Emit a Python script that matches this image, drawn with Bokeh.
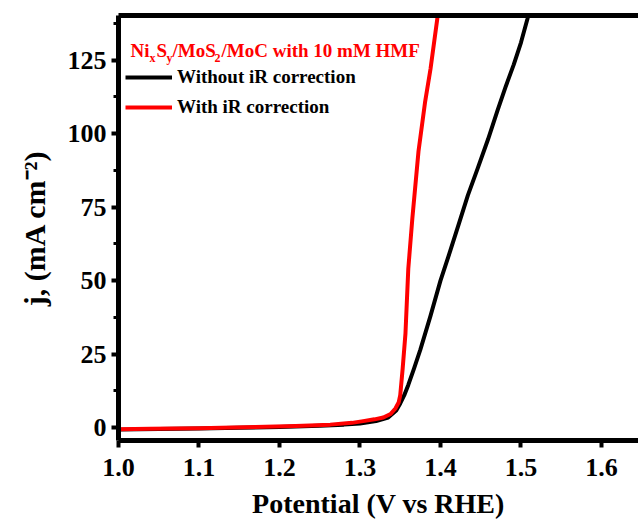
from bokeh.plotting import figure
from bokeh.models import (Range1d, FixedTicker, NumeralTickFormatter, LinearAxis,
                          Legend, LegendItem, Label)
from bokeh.embed import file_html
from bokeh.resources import INLINE

# ---- data ----
black_v = [1.00, 1.05, 1.10, 1.15, 1.20, 1.25, 1.28, 1.30, 1.32, 1.335, 1.345, 1.350,
           1.355, 1.360, 1.367, 1.375, 1.3876, 1.400, 1.412, 1.423, 1.434, 1.446,
           1.459, 1.471, 1.481, 1.491, 1.500, 1.508, 1.513]
black_j = [-0.7, -0.5, -0.3, -0.1, 0.2, 0.6, 1.0, 1.4, 2.2, 3.4, 5.8, 8.2,
           11.0, 14.5, 20.0, 26.5, 38.0, 50.0, 60.0, 69.5, 79.0, 88.0,
           98.0, 108.0, 116.0, 123.5, 131.0, 139.0, 145.0]

red_v = [1.00, 1.04, 1.10, 1.17, 1.22, 1.263, 1.29, 1.304, 1.318, 1.329, 1.338, 1.344,
         1.348, 1.350, 1.353, 1.3565, 1.360, 1.365, 1.3727, 1.381, 1.3876, 1.396, 1.399]
red_j = [-0.6, -0.4, -0.2, 0.2, 0.5, 1.0, 1.6, 2.2, 2.8, 3.4, 4.6, 6.5,
         8.5, 11.0, 20.0, 32.0, 54.0, 71.0, 94.0, 111.0, 122.0, 139.0, 146.0]

x_ticks = [1.0, 1.1, 1.2, 1.3, 1.4, 1.5, 1.6]
y_ticks = [0, 25, 50, 75, 100, 125]
y_minor = [12.5, 37.5, 62.5, 87.5, 112.5, 137.5]

series_names = ["Without iR correction", "With iR correction"]
series_colors = ["#000000", "#ff0000"]
x_title = "Potential (V vs RHE)"
y_title = "j, (mA cm\u207b\u00b2)"

FONT = "Liberation Serif"

W, H = 638, 526
LEFT, TOP, BOTTOM = 118, 15, 86
X0, X1 = 1.0, 1.646
Y0, Y1 = -4.4, 140.2

p = figure(width=W, height=H, output_backend="svg", toolbar_location=None,
           x_range=Range1d(X0, X1), y_range=Range1d(Y0, Y1),
           min_border_left=LEFT, min_border_right=0, min_border_top=TOP,
           min_border_bottom=BOTTOM)
p.grid.visible = False
p.outline_line_color = None
p.background_fill_color = "white"
p.border_fill_color = "white"

r_black = p.line(black_v, black_j, line_color=series_colors[0], line_width=4,
                 line_join="round")
r_red = p.line(red_v, red_j, line_color=series_colors[1], line_width=4,
               line_join="round")

# axes
for ax in (p.xaxis[0], p.yaxis[0]):
    ax.axis_line_width = 5
    ax.axis_line_color = "black"
    ax.major_tick_line_width = 4
    ax.minor_tick_line_width = 3
    ax.major_tick_in = 0
    ax.minor_tick_in = 0
    ax.major_tick_out = 7
    ax.minor_tick_out = 5
    ax.major_label_text_font = FONT
    ax.major_label_text_font_style = "bold"
    ax.major_label_text_font_size = "26px"
    ax.major_label_text_color = "black"
    ax.axis_label_text_font = FONT
    ax.axis_label_text_font_style = "bold"
    ax.axis_label_text_color = "black"

p.xaxis[0].ticker = FixedTicker(ticks=x_ticks, minor_ticks=[])
p.xaxis[0].formatter = NumeralTickFormatter(format="0.0")
p.xaxis[0].major_label_standoff = 11
p.xaxis[0].axis_label = x_title
p.xaxis[0].axis_label_text_font_size = "28px"
p.xaxis[0].axis_label_standoff = 9

p.yaxis[0].ticker = FixedTicker(ticks=y_ticks, minor_ticks=y_minor)
p.yaxis[0].major_label_standoff = 5
p.yaxis[0].axis_label = y_title
p.yaxis[0].axis_label_text_font_size = "30px"
p.yaxis[0].axis_label_standoff = 14

top_axis = LinearAxis(ticker=FixedTicker(ticks=[]), axis_line_width=5,
                      major_tick_out=0, minor_tick_out=0, major_label_text_font_size="0px")
p.add_layout(top_axis, "above")

# legend
legend = Legend(items=[LegendItem(label=series_names[0], renderers=[r_black]),
                       LegendItem(label=series_names[1], renderers=[r_red])],
                location=(7, 322), padding=0, margin=0, spacing=8,
                glyph_width=47, glyph_height=20, label_height=20, label_standoff=5,
                label_text_font=FONT, label_text_font_style="bold",
                label_text_font_size="19px", label_text_color="black",
                border_line_color=None, background_fill_alpha=0)
p.add_layout(legend, "center")

# red title text with subscripts, placed by screen pixel -> data conversion
FH = H - TOP - BOTTOM
def dx(px):
    return X0 + (px - LEFT) / (W - LEFT) * (X1 - X0)
def dy(py):
    return Y0 + (TOP + FH - py) / FH * (Y1 - Y0)

pieces = [("Ni", 130, 50, "19px"), ("x", 149, 57, "12px"), ("S", 156, 50, "19px"),
          ("y", 166, 57, "12px"), ("/MoS", 172, 50, "19px"), ("2", 214, 57, "12px"),
          ("/MoC with 10 mM HMF", 221, 50, "19px")]
for txt, px, py, fs in pieces:
    p.add_layout(Label(x=dx(px), y=dy(py), text=txt, text_font=FONT,
                       text_font_style="bold", text_font_size=fs, text_color="#ff0000",
                       text_baseline="alphabetic", text_align="left"))

open("out.html", "w").write(file_html(p, INLINE))
